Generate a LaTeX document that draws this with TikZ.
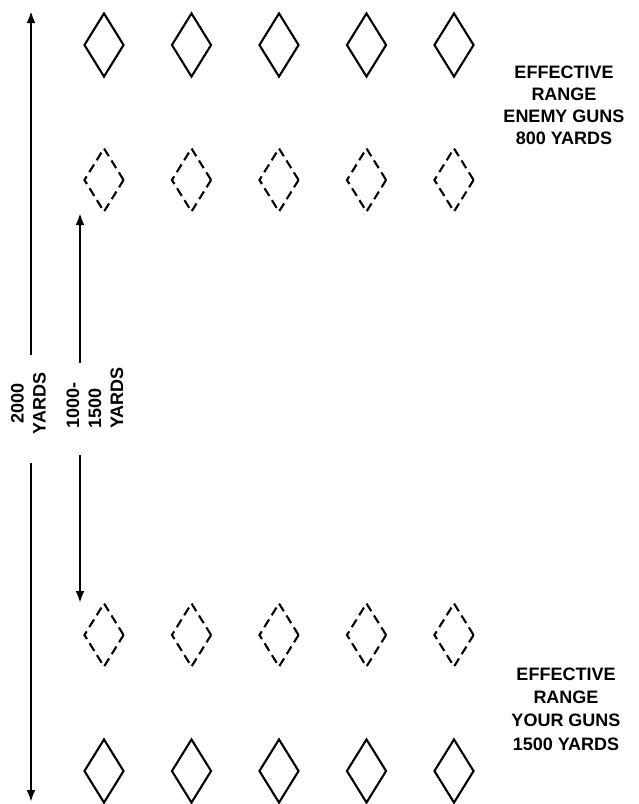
\documentclass[tikz,border=0pt]{standalone}
\usepackage{fontspec}
\setmainfont{Liberation Sans}
\usetikzlibrary{shapes.geometric,arrows.meta}

\begin{document}
\begin{tikzpicture}[x=1pt, y=-1pt,
  gunpos/.style={diamond, draw, line width=2.1pt, minimum width=40pt, minimum height=64pt, inner sep=0pt},
  fwdpos/.style={gunpos, dash pattern=on 9pt off 5pt},
  rangearr/.style={-{Latex[length=12pt,width=9pt]}, line width=2.6pt},
  caption/.style={align=center, font=\fontsize{18}{22}\selectfont\bfseries, inner sep=0pt},
  dimtext/.style={rotate=90, font=\fontsize{18}{22}\selectfont\bfseries, inner sep=0pt}
]
  \useasboundingbox (0,0) rectangle (638,804);

  % gun positions, enemy on top, yours below
  \foreach \i/\x in {1/104,2/191.5,3/279,4/366.5,5/454} {
    \node[gunpos] (enemy-\i) at (\x,45) {};
    \node[fwdpos] (enemyfwd-\i) at (\x,180) {};
    \node[fwdpos] (ownfwd-\i) at (\x,635) {};
    \node[gunpos] (own-\i) at (\x,771) {};
  }

  % range labels
  \node[dimtext, align=center] (yd2000) at (28.5,403.5) {2000\\YARDS};
  \node[dimtext, align=left, anchor=west] (yd1000) at (95,429) {1000-\\1500\\YARDS};
  \node[caption] (enemyrange) at (564,105.5) {EFFECTIVE\\RANGE\\ENEMY GUNS\\800 YARDS};
  \node[caption, font=\fontsize{18}{23.3}\selectfont\bfseries] (ownrange) at (566,709) {EFFECTIVE\\RANGE\\YOUR GUNS\\1500 YARDS};

  \coordinate (long-top) at (31,11);
  \coordinate (long-a) at (31,355);
  \coordinate (long-b) at (31,463);
  \coordinate (long-bot) at (31,802);
  \coordinate (short-top) at (80,213);
  \coordinate (short-a) at (80,363);
  \coordinate (short-b) at (80,455);
  \coordinate (short-bot) at (80,603);

  \draw[rangearr] (long-a) -- (long-top);
  \draw[rangearr] (long-b) -- (long-bot);
  \draw[rangearr] (short-a) -- (short-top);
  \draw[rangearr] (short-b) -- (short-bot);
\end{tikzpicture}
\end{document}
